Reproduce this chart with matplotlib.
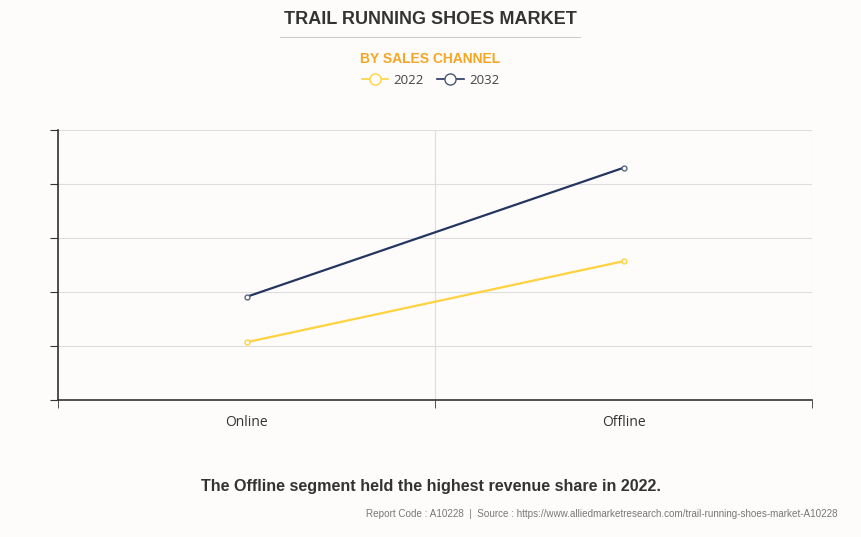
import matplotlib
matplotlib.use('Agg')
import matplotlib.pyplot as plt
from matplotlib.lines import Line2D

categories = ['Online', 'Offline']
values_2022 = [1.07, 2.57]
values_2032 = [1.91, 4.30]

bg = '#fdfcfb'
c2022 = '#ffd23f'
c2032 = '#24365f'

fig = plt.figure(figsize=(8.61, 5.37), dpi=100, facecolor=bg)
ax = fig.add_axes([58/861, 137/537, 754/861, 270/537], facecolor=bg)

x = list(range(len(categories)))
ax.plot(x, values_2022, color=c2022, lw=1.6, marker='o', ms=3.5,
        mfc='white', mec=c2022, mew=1)
ax.plot(x, values_2032, color=c2032, lw=1.6, marker='o', ms=3.5,
        mfc='white', mec='#5a6680', mew=1)

ax.set_xlim(-0.5, 1.5)
ax.set_ylim(0, 5)
ax.set_yticks(range(6))
ax.set_yticklabels([])
ax.set_xticks(x)
ax.set_xticklabels(categories, fontsize=10, color='#333333', family='Open Sans')
ax.set_xticks([-0.5, 0.5, 1.5], minor=True)
ax.tick_params(axis='x', which='major', length=0, pad=11)
ax.tick_params(axis='x', which='minor', length=6, color='#333333', direction='out')
ax.tick_params(axis='y', length=6, color='#333333')
ax.grid(axis='y', color='#dddddd', lw=0.8)
ax.grid(axis='x', which='minor', color='#dddddd', lw=0.8)
for s in ['top', 'right']:
    ax.spines[s].set_visible(False)
for s in ['left', 'bottom']:
    ax.spines[s].set_color('#333333')
    ax.spines[s].set_linewidth(1.2)
ax.set_axisbelow(True)

fig.text(0.5, 1 - 20/537, 'TRAIL RUNNING SHOES MARKET', ha='center', va='center',
         fontsize=13, fontweight='bold', color='#333333', family='Liberation Sans')
fig.add_artist(Line2D([280/861, 580/861], [1 - 37/537, 1 - 37/537], color='#cccccc', lw=0.8))
fig.text(0.5, 1 - 59/537, 'BY SALES CHANNEL', ha='center', va='center',
         fontsize=10, fontweight='bold', color='#f5a623', family='Liberation Sans')

handles = [Line2D([], [], color=c2022, marker='o', ms=8, mfc='white', mec=c2022, lw=1.2),
           Line2D([], [], color=c2032, marker='o', ms=8, mfc='white', mec='#4a5670', lw=1.2)]
fig.legend(handles, ['2022', '2032'], loc='center', bbox_to_anchor=(0.5, 1 - 80/537),
           ncol=2, frameon=False, handlelength=2, handletextpad=0.4,
           columnspacing=1.0, prop={'family': 'Open Sans', 'size': 9.5},
           labelcolor='#444444')

fig.text(0.5, 1 - 487/537, 'The Offline segment held the highest revenue share in 2022.',
         ha='center', va='center', fontsize=11.6, fontweight='bold', color='#333333',
         family='Liberation Sans')
fig.text(838/861, 1 - 514/537,
         'Report Code : A10228  |  Source : https://www.alliedmarketresearch.com/trail-running-shoes-market-A10228',
         ha='right', va='center', fontsize=7.1, color='#777777', family='Liberation Sans')

fig.savefig('out.png', dpi=100, facecolor=bg)
